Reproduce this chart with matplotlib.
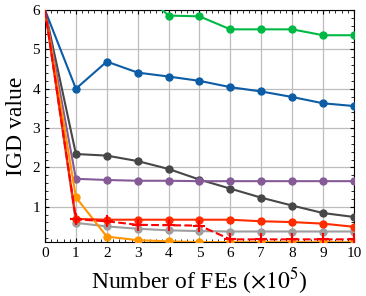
import numpy as np
import matplotlib
matplotlib.use('Agg')
import matplotlib.pyplot as plt
from matplotlib.ticker import MultipleLocator

plt.rcParams['font.family'] = 'Liberation Serif'
plt.rcParams['mathtext.fontset'] = 'stix'

# ---- data ----
fes = [0, 1, 2, 3, 4, 5, 6, 7, 8, 9, 10]

igd_blue = [6.0, 4.00, 4.69, 4.41, 4.31, 4.20, 4.04, 3.93, 3.79, 3.63, 3.56]
igd_green = [7.2, 7.0, 6.8, 6.56, 5.86, 5.84, 5.51, 5.51, 5.51, 5.36, 5.36]
igd_orange = [6.0, 1.24, 0.24, 0.15, 0.12, 0.10, 0.10, 0.10, 0.10, 0.10, 0.10]
igd_red = [6.0, 0.69, 0.67, 0.67, 0.67, 0.67, 0.67, 0.63, 0.61, 0.57, 0.49]
igd_purple = [6.0, 1.71, 1.68, 1.66, 1.66, 1.65, 1.65, 1.65, 1.65, 1.65, 1.65]
igd_dark = [6.0, 2.34, 2.30, 2.16, 1.96, 1.69, 1.46, 1.23, 1.03, 0.84, 0.74]
igd_gray = [6.0, 0.59, 0.50, 0.44, 0.40, 0.38, 0.37, 0.37, 0.37, 0.37, 0.37]
igd_reddash = [6.0, 0.68, 0.63, 0.54, 0.53, 0.52, 0.17, 0.17, 0.17, 0.17, 0.17]

fig = plt.figure(figsize=(3.66, 2.96), dpi=100)
ax = fig.add_axes([0.123, 0.182, 0.844, 0.784])

lw = 1.5
ms = 5
mk = slice(1, None)   # no marker at the start point
ax.plot(fes, igd_gray, '-o', color='#9e9e9e', lw=lw, ms=ms, markevery=mk, zorder=3)
ax.plot(fes, igd_dark, '-o', color='#474747', lw=lw, ms=ms, markevery=mk, zorder=3)
ax.plot(fes, igd_purple, '-o', color='#845B97', lw=lw, ms=ms, markevery=mk, zorder=3)
ax.plot(fes, igd_orange, '-o', color='#FF9500', lw=lw, ms=ms, markevery=mk, zorder=3)
ax.plot(fes, igd_red, '-o', color='#FF2C00', lw=lw, ms=ms, markevery=mk, zorder=3)
ax.plot(fes, igd_reddash, '--+', color='#FF0000', lw=lw, ms=9, mew=1.5, markevery=mk, zorder=4)
ax.plot(fes, igd_green, '-o', color='#00B945', lw=lw, ms=ms, markevery=mk, zorder=3)
ax.plot(fes, igd_blue, '-o', color='#0C5DA5', lw=lw, ms=ms, markevery=mk, zorder=3)

ax.set_xlim(0, 10)
ax.set_ylim(0.1, 6)
ax.xaxis.set_major_locator(MultipleLocator(1))
ax.xaxis.set_minor_locator(MultipleLocator(0.2))
ax.yaxis.set_major_locator(MultipleLocator(1))
ax.yaxis.set_minor_locator(MultipleLocator(0.2))
ax.tick_params(which='both', direction='in', top=True, right=True, labelsize=11)
ax.tick_params(which='major', length=3)
ax.tick_params(which='minor', length=2)
ax.grid(True, color='#bdbdbd', lw=0.9)
ax.set_axisbelow(True)

ax.set_xlabel(r'Number of FEs ($\times 10^5$)', fontsize=17)
ax.set_ylabel('IGD value', fontsize=17)

fig.savefig('out.png', dpi=100)
